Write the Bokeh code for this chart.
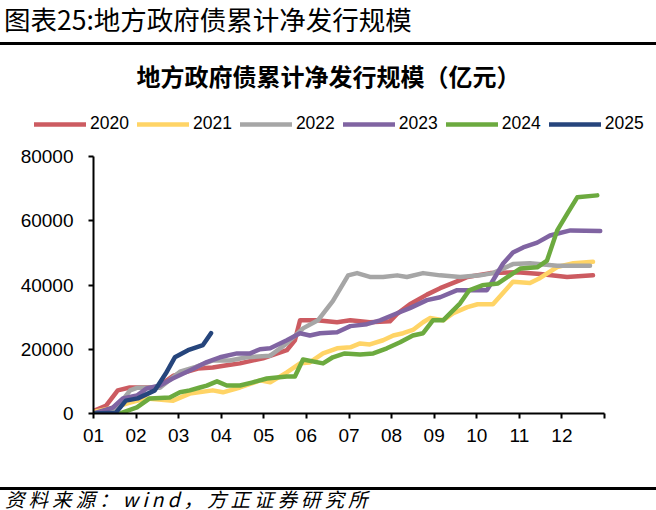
from bokeh.plotting import figure
from bokeh.models import Range1d, FixedTicker, Legend, LegendItem, Div
from bokeh.layouts import column
from bokeh.embed import file_html
from bokeh.resources import INLINE

# ---------------- data (x = month position, 0 = start of January) ----------------
series_names = ["2020", "2021", "2022", "2023", "2024", "2025"]
series_colors = ["#CC5B61", "#FFD466", "#A6A6A6", "#8064A2", "#6CAA3F", "#26457C"]

x_2020 = [0, 0.30, 0.57, 0.85, 1.48, 1.88, 2.45, 2.80, 3.13, 3.44, 3.98, 4.54, 4.73, 4.85,
          5.25, 5.72, 6.03, 6.49, 6.96, 7.13, 7.43, 7.83, 8.14, 8.61, 8.78, 9.32, 9.95,
          10.49, 11.12, 11.73]
v_2020 = [800, 2500, 7200, 8100, 8100, 11800, 14000, 14300, 15000, 15600, 17200, 19700, 22800, 29000,
          29000, 28400, 29000, 28400, 28700, 31000, 34000, 37000, 39000, 41500, 42500, 43700, 44000,
          43400, 42500, 43000]

x_2021 = [0, 0.46, 0.86, 1.25, 1.87, 2.26, 2.80, 3.04, 3.44, 3.91, 4.15, 4.54, 4.85, 5.08,
          5.39, 5.72, 6.03, 6.26, 6.49, 6.80, 7.04, 7.27, 7.50, 7.74, 7.90, 8.21, 8.45,
          8.78, 9.02, 9.38, 9.85, 10.25, 10.49, 10.89, 11.27, 11.73]
v_2021 = [500, 1800, 3400, 4700, 4000, 6200, 7200, 6600, 8100, 10300, 9700, 12800, 15600, 15900,
          18700, 20300, 20600, 21800, 21500, 22800, 24300, 25000, 26000, 28400, 29700, 29000, 31200,
          33100, 34000, 34000, 41000, 40600, 42200, 45600, 46800, 47200]

x_2022 = [0, 0.45, 0.70, 0.86, 1.02, 1.56, 2.03, 2.40, 2.80, 3.20, 3.60, 4.15, 4.54, 4.92,
          5.27, 5.62, 5.98, 6.19, 6.49, 6.80, 7.13, 7.36, 7.74, 8.14, 8.61, 9.08, 9.38,
          9.85, 10.25, 10.89, 11.66]
v_2022 = [0, 1000, 4500, 7200, 8000, 8000, 13000, 14500, 16500, 16500, 17500, 18000, 21800, 26500,
          29000, 35000, 43000, 43700, 42500, 42500, 43000, 42500, 43700, 43000, 42500, 43000, 43700,
          46500, 46800, 46000, 46000]

x_2023 = [0, 0.45, 0.69, 1.02, 1.25, 1.56, 1.86, 2.26, 2.66, 2.97, 3.37, 3.68, 3.91, 4.15,
          4.54, 4.85, 5.08, 5.32, 5.72, 6.03, 6.42, 6.73, 7.13, 7.43, 7.83, 8.14, 8.54,
          9.24, 9.38, 9.62, 9.85, 10.09, 10.42, 10.72, 11.20, 11.90]
v_2023 = [0, 1800, 4700, 5600, 7800, 8700, 10900, 13400, 16000, 17500, 18700, 18700, 20000, 20300,
          22800, 25000, 24300, 25000, 25300, 27200, 27800, 29000, 31200, 32800, 35300, 36200, 38400,
          38400, 41400, 46700, 50100, 51700, 53200, 55400, 57000, 56800]

x_2024 = [0, 0.61, 1.02, 1.32, 1.79, 2.03, 2.26, 2.50, 2.66, 2.90, 3.13, 3.44, 3.74, 4.07,
          4.54, 4.73, 4.92, 5.39, 5.62, 5.90, 6.26, 6.57, 6.89, 7.20, 7.50, 7.74, 7.97,
          8.21, 8.61, 8.82, 9.13, 9.50, 9.78, 10.02, 10.42, 10.65, 10.89, 11.13, 11.36, 11.83]
v_2024 = [0, 0, 1900, 4700, 5000, 6600, 7200, 8100, 8700, 10000, 8700, 8700, 9700, 10900,
          11500, 11500, 16800, 15600, 17500, 18700, 18400, 18700, 20300, 22200, 24300, 25000, 29000,
          29000, 34300, 38300, 39900, 40500, 43000, 45100, 45500, 47600, 57000, 62300, 67300, 67900]

x_2025 = [0, 0.52, 0.76, 1.04, 1.44, 1.70, 1.91, 2.22, 2.57, 2.76]
v_2025 = [0, 200, 4000, 4700, 7200, 12500, 17500, 19700, 21300, 25000]

month_labels = ["01", "02", "03", "04", "05", "06", "07", "08", "09", "10", "11", "12"]
y_ticks = [0, 20000, 40000, 60000, 80000]

header_text = "图表25:地方政府债累计净发行规模"
chart_title = "地方政府债累计净发行规模（亿元）"
source_text = "资料来源：wind，方正证券研究所"

xs = [x_2020, x_2021, x_2022, x_2023, x_2024, x_2025]
vs = [v_2020, v_2021, v_2022, v_2023, v_2024, v_2025]

LINE_W = 4.5

# ---------------- top strip: chart title + legend ----------------
# (the series are drawn here too, but outside the visible range, so that the
#  legend below gets its line samples from real renderers)
top = figure(width=656, height=96, x_range=Range1d(0, 12), y_range=Range1d(-200000, -100000),
             x_axis_location=None, y_axis_location=None,
             output_backend="svg", toolbar_location=None,
             min_border_left=0, min_border_right=0, min_border_top=47, min_border_bottom=0)
top.grid.visible = False
top.outline_line_color = None
top.title.text = chart_title
top.title.align = "center"
top.title.offset = 21
top.title.standoff = 0
top.title.text_font = "Noto Sans CJK SC"
top.title.text_font_style = "bold"
top.title.text_font_size = "24px"
top.title.text_color = "black"

legend_items = []
for name, c, x, v in zip(series_names, series_colors, xs, vs):
    r = top.line(x, v, line_width=LINE_W, line_color=c, line_cap="round")
    legend_items.append(LegendItem(label=name, renderers=[r]))

legend = Legend(items=legend_items, orientation="horizontal", location=(34, 7),
                glyph_width=52, glyph_height=20, label_height=20, label_standoff=4,
                spacing=8, padding=0, margin=0, border_line_color=None,
                background_fill_alpha=0, label_text_font="Liberation Sans",
                label_text_font_size="17.5px", label_text_color="black")
top.add_layout(legend, "center")

# ---------------- main chart ----------------
p = figure(width=656, height=345, x_range=Range1d(0, 12), y_range=Range1d(0, 80000),
           output_backend="svg", toolbar_location=None,
           min_border_left=93, min_border_right=52, min_border_top=15, min_border_bottom=73)
p.outline_line_color = None
p.xgrid.grid_line_color = None
p.ygrid.grid_line_color = None

for name, c, x, v in zip(series_names, series_colors, xs, vs):
    p.line(x, v, line_width=LINE_W, line_color=c, line_cap="round", line_join="round")

for ax in (p.xaxis[0], p.yaxis[0]):
    ax.axis_line_color = "black"
    ax.axis_line_width = 2
    ax.major_tick_line_color = "black"
    ax.major_tick_line_width = 2
    ax.major_tick_in = 0
    ax.major_tick_out = 5
    ax.minor_tick_line_color = None
    ax.major_label_text_font = "Liberation Sans"
    ax.major_label_text_font_size = "19px"
    ax.major_label_text_color = "black"

p.xaxis.ticker = FixedTicker(ticks=list(range(13)))
overrides = {i: month_labels[i] for i in range(12)}
overrides[12] = ""
p.xaxis.major_label_overrides = overrides
p.xaxis.major_label_standoff = 10

p.yaxis.ticker = FixedTicker(ticks=y_ticks)
p.yaxis.major_label_standoff = 15

# keep the two figures' frames independent (no frame alignment in the column)
for fig in (top, p):
    if "frame_align" in fig.properties():
        fig.frame_align = False

# ---------------- header / footer ----------------
header = Div(text=(
    '<div style="position:relative;width:656px;height:45px;">'
    '<div style="position:absolute;left:4px;top:0px;font-family:\'Noto Sans CJK SC\';'
    'font-size:26.5px;line-height:38px;white-space:nowrap;color:#000;">' + header_text + '</div>'
    '<div style="position:absolute;left:0px;top:42px;width:656px;height:3px;background:#000;"></div>'
    '</div>'), width=656, height=45, margin=0)

footer = Div(text=(
    '<div style="position:relative;width:656px;height:24px;">'
    '<div style="position:absolute;left:0px;top:1px;width:656px;height:3px;background:#000;"></div>'
    '<div style="position:absolute;left:5px;top:3px;font-family:\'Noto Sans CJK SC\';'
    'font-style:italic;font-size:19.5px;line-height:20px;letter-spacing:4px;white-space:nowrap;color:#000;">'
    + source_text + '</div>'
    '</div>'), width=656, height=24, margin=0)

layout = column(header, top, p, footer, spacing=0)
open("out.html", "w").write(file_html(layout, INLINE))
